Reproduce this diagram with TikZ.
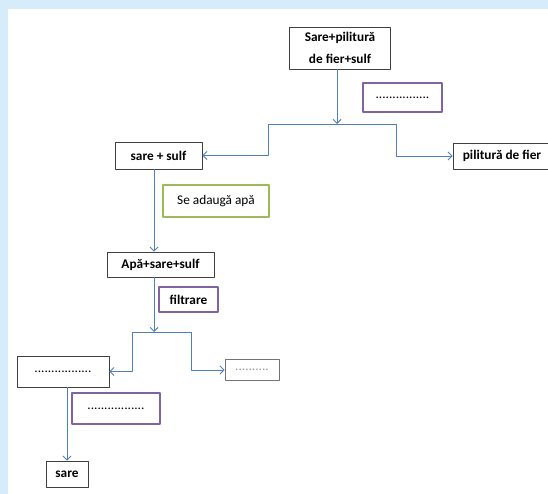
\documentclass[tikz,border=0pt]{standalone}
\usepackage{fontspec}
\setmainfont{Carlito}
\usetikzlibrary{arrows.meta}
\definecolor{linkblue}{RGB}{79,129,189}
\definecolor{oppurple}{RGB}{128,100,162}
\definecolor{addgreen}{RGB}{155,187,89}
\definecolor{pageblue}{RGB}{214,236,250}
\begin{document}
\begin{tikzpicture}[x=1pt,y=-1pt,line join=round,
    every node/.style={font=\fontsize{13.3}{22}\selectfont, inner sep=0pt},
    box/.style={draw=black!75, line width=0.9pt, fill=white,
      font=\fontsize{13.3}{22}\selectfont\bfseries},
    opbox/.style={draw=oppurple, line width=2pt, fill=white},
    addbox/.style={draw=addgreen, line width=2pt, fill=white},
    link/.style={draw=linkblue, line width=0.9pt},
    arr/.style={link, -{Straight Barb[length=4pt,width=8pt]}}]
  \useasboundingbox[fill=pageblue] (0,0) rectangle (548,494);
  \fill[white] (8,9) rectangle (548,494);

  % boxes
  \node[box, minimum width=101pt, minimum height=42pt, align=center] (mix) at (340,48) {Sare+pilitură\\de fier+sulf};
  \node[opbox, minimum width=79pt, minimum height=29pt] (op1) at (402.5,97.5) {................};
  \node[box, minimum width=87pt, minimum height=27pt] (salt) at (158.5,155.5) {sare + sulf};
  \node[box, minimum width=98pt, minimum height=26pt] (iron) at (502,156) {pilitură de fier};
  \node[addbox, minimum width=106pt, minimum height=32pt] (water) at (216,201) {Se adaugă apă};
  \node[box, minimum width=107pt, minimum height=25pt] (mixw) at (160.5,264.5) {Apă+sare+sulf};
  \node[opbox, minimum width=59pt, minimum height=25pt, font=\fontsize{13.3}{22}\selectfont\bfseries] (filt) at (188.5,299.5) {filtrare};
  \node[box, minimum width=92pt, minimum height=31pt, font=\fontsize{13.3}{22}\selectfont] (rest) at (63,371.5) {.................};
  \node[box, draw=black!55, text=black!40, minimum width=54pt, minimum height=21pt, font=\fontsize{13.3}{22}\selectfont] (waste) at (252,370) {..........};
  \node[opbox, minimum width=88pt, minimum height=31pt] (op2) at (116,408.5) {.................};
  \node[box, minimum width=42pt, minimum height=26pt] (pure) at (67,474) {sare};

  % connectors
  \coordinate (split1) at (337,124);
  \coordinate (left1) at (268,124);
  \coordinate (right1) at (396,124);
  \draw[arr] (mix.south -| split1) -- (split1);
  \draw[link] (left1) -- (right1);
  \draw[arr] (left1) |- (salt.east);
  \draw[arr] (right1) |- (iron.west);

  \coordinate (axis1) at (154,0);
  \draw[arr] (salt.south -| axis1) -- (mixw.north -| axis1);

  \coordinate (split2) at (154,332);
  \coordinate (left2) at (132,332);
  \coordinate (right2) at (191,332);
  \draw[arr] (mixw.south -| split2) -- (split2);
  \draw[link] (left2) -- (right2);
  \draw[arr] (left2) |- (rest.east);
  \draw[arr] (right2) |- (waste.west);
  \draw[arr] (rest.south -| pure.north) -- (pure.north);
\end{tikzpicture}
\end{document}
